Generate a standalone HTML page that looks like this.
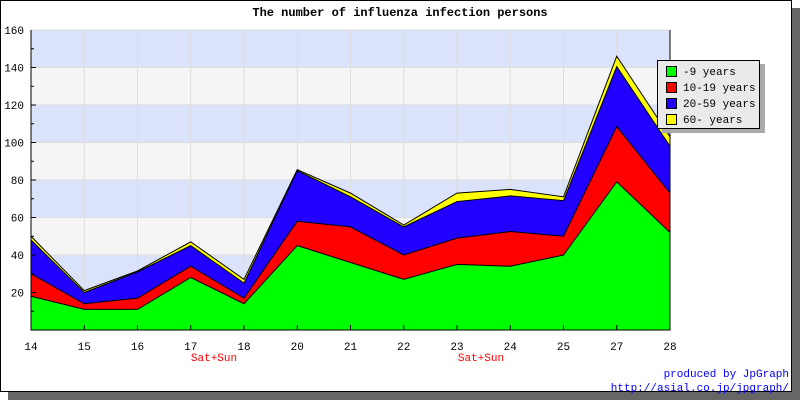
<!DOCTYPE html>
<html><head><meta charset="utf-8"><style>
body{margin:0;width:800px;height:400px;overflow:hidden;background:#fff}
svg{display:block;font-family:"Liberation Mono","DejaVu Sans Mono",monospace}
</style></head><body>
<svg id="c" width="800" height="400">
<rect x="8" y="8" width="792" height="392" fill="#666"/>
<rect x="0.5" y="0.5" width="791" height="391" fill="#fff" stroke="#000"/>
<text x="400" y="16" text-anchor="middle" font-size="12" font-weight="bold">The number of influenza infection persons</text>
<g id="bands"></g><g id="grid"></g><g id="areas"></g><g id="axes"></g>
<text x="214" y="361" text-anchor="middle" font-size="11" fill="#f00">Sat+Sun</text>
<text x="481" y="361" text-anchor="middle" font-size="11" fill="#f00">Sat+Sun</text>
<text x="789" y="377" text-anchor="end" font-size="11" fill="#00f">produced by JpGraph</text>
<text x="789" y="391" text-anchor="end" font-size="11" fill="#00f">http://asial.co.jp/jpgraph/</text>
<g>
<rect x="662" y="64" width="103" height="69" fill="#aaa"/>
<rect x="657.5" y="60.5" width="102" height="68" fill="#eaeaea" stroke="#000"/>
<g id="legitems"></g>
</g>
</svg>
<script>
const categories=["14","15","16","17","18","20","21","22","23","24","25","27","28"];
const kids=[18,11,11,28,14,45,36,27,35,34,40,79,52];
const teens=[12,3,6,6,3,13,19,13,14,18.5,10,29.5,21];
const adults=[18,6,14,11,8,27,16,15,19.5,19,19,32,25];
const seniors=[2,1,0.5,2,2,0.5,2,1,4.5,3.5,2,5.5,5];
const seriesNames=["-9 years","10-19 years","20-59 years","60- years"];
const yTicks=[20,40,60,80,100,120,140,160];
const NS="http://www.w3.org/2000/svg";
const X0=31,X1=670,Y0=330,YMAX=160,YTOP=30;
const xs=i=>X0+(X1-X0)*i/(categories.length-1);
const ys=v=>Y0-(Y0-YTOP)*v/YMAX;
function mk(p,t,a){const e=document.createElementNS(NS,t);for(const k in a)e.setAttribute(k,a[k]);document.getElementById(p).appendChild(e);return e;}
for(let v=0;v<YMAX;v+=20){
 const r=mk('bands','rect',{x:X0,y:ys(v+20),width:X1-X0,height:ys(v)-ys(v+20),fill:(v/20)%2?'#dae3fa':'#f5f5f5'});
 
 
}
yTicks.forEach(v=>{const l=mk('grid','line',{x1:X0,x2:X1,y1:ys(v),y2:ys(v),stroke:'#ddd'});
 
 });
categories.forEach((c,i)=>{const l=mk('grid','line',{x1:xs(i),x2:xs(i),y1:YTOP,y2:Y0,stroke:'#ddd'});
 
 });
const series=[kids,teens,adults,seniors],colors=['#00ff00','#ff0000','#2200ff','#ffff00'];
let base=categories.map(()=>0);
const tops=series.map(s=>{base=base.map((b,i)=>b+s[i]);return base.slice();});
for(let k=series.length-1;k>=0;k--){
 const pts=tops[k].map((v,i)=>xs(i)+','+ys(v));
 const p=mk('areas','polygon',{points:X0+','+Y0+' '+pts.join(' ')+' '+X1+','+Y0,fill:colors[k],stroke:'#000','stroke-width':1});
 
 
}
const ax=mk('axes','path',{d:`M${X0} ${YTOP}V${Y0}H${X1}V${YTOP}`,fill:'none',stroke:'#000'});


for(let v=10;v<YMAX;v+=10){mk('axes','line',{x1:X0,x2:X0+(v%20?3:5),y1:ys(v),y2:ys(v),stroke:'#000'});}
yTicks.forEach(v=>{const t=mk('axes','text',{x:X0-7,y:ys(v)+4,'text-anchor':'end','font-size':11});t.textContent=v;
 
 });
categories.forEach((c,i)=>{mk('axes','line',{x1:xs(i),x2:xs(i),y1:Y0,y2:Y0-5,stroke:'#000'});
 const t=mk('axes','text',{x:xs(i),y:350,'text-anchor':'middle','font-size':11});t.textContent=c;
 
 });
seriesNames.forEach((n,k)=>{const y=66+k*16;
 const r=mk('legitems','rect',{x:666.5,y:y+0.5,width:10,height:10,fill:colors[k],stroke:'#000'});
 
 
 const t=mk('legitems','text',{x:683,y:y+9,'font-size':11});t.textContent=n;
 
 });
</script>
</body></html>
